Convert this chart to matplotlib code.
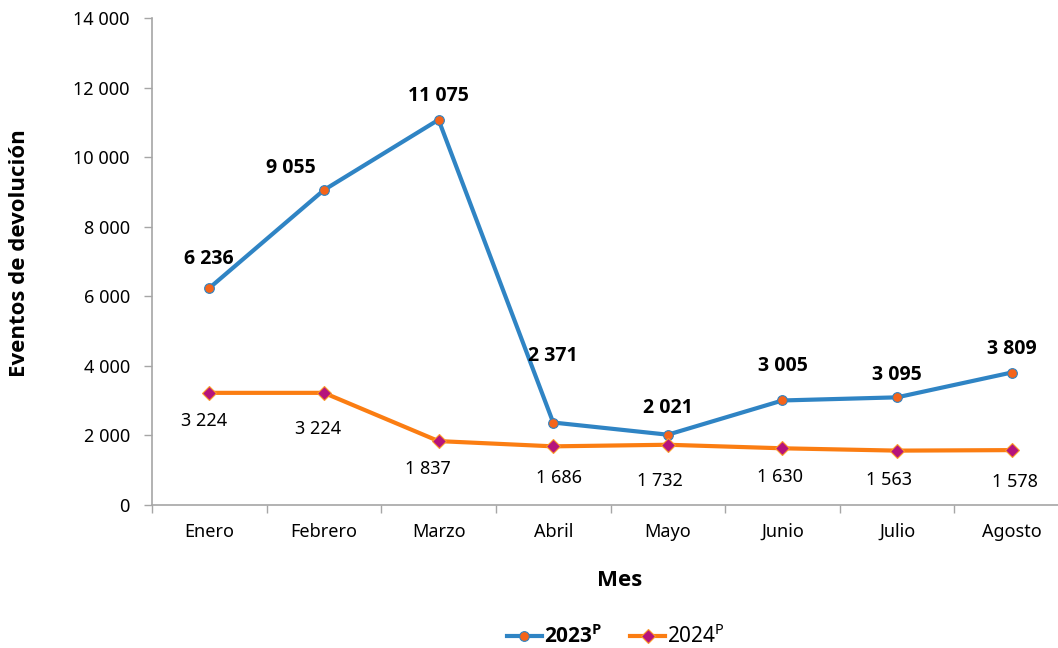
import matplotlib
matplotlib.use("Agg")
import matplotlib.pyplot as plt
from matplotlib.ticker import FuncFormatter, FixedLocator
from matplotlib.lines import Line2D

plt.rcParams['font.family'] = ['Noto Sans', 'DejaVu Sans']
plt.rcParams['mathtext.fontset'] = 'custom'
plt.rcParams['mathtext.rm'] = 'Noto Sans'
plt.rcParams['mathtext.bf'] = 'Open Sans:bold'

BOLD = ['Open Sans', 'DejaVu Sans']

months = ["Enero", "Febrero", "Marzo", "Abril", "Mayo", "Junio", "Julio", "Agosto"]
values_2023 = [6236, 9055, 11075, 2371, 2021, 3005, 3095, 3809]
values_2024 = [3224, 3224, 1837, 1686, 1732, 1630, 1563, 1578]
yticks = [0, 2000, 4000, 6000, 8000, 10000, 12000, 14000]

# label offsets in points (styles, not data)
off_2023 = [(0, 21), (-24, 16), (0, 17), (0, 48), (0, 19), (0, 25), (0, 16), (0, 17)]
off_2024 = [(-4, -20), (-4, -26), (-8, -20), (4, -23), (-6, -26), (-2, -21), (-6, -21), (2, -23)]

def fmt(v):
    return f"{int(v):,}".replace(",", " ")

blue = '#2f84c4'
orange = '#fb7d12'
gray = '#a6a6a6'
FS = 13

fig = plt.figure(figsize=(10.58, 6.48), dpi=100)
ax = fig.add_axes([152/1058, 1-505/648, (1069-152)/1058, (505-18)/648])

x = list(range(len(months)))
ax.plot(x, values_2023, color=blue, lw=3, marker='o', ms=7,
        mfc='#f5641a', mec='#2f84c4', mew=0.8, zorder=3)
ax.plot(x, values_2024, color=orange, lw=3, marker='D', ms=7,
        mfc='#b5137c', mec='#fb9a2a', mew=0.8, zorder=3)

for i, v in enumerate(values_2023):
    ax.annotate(fmt(v), (i, v), xytext=off_2023[i], textcoords='offset points',
                ha='center', va='center', fontsize=14, fontweight='bold', family=BOLD)
for i, v in enumerate(values_2024):
    ax.annotate(fmt(v), (i, v), xytext=off_2024[i], textcoords='offset points',
                ha='center', va='center', fontsize=FS)

ax.set_xlim(-0.5, len(months) - 0.5)
ax.set_ylim(0, 14000)
ax.set_yticks(yticks)
ax.yaxis.set_major_formatter(FuncFormatter(lambda v, p: fmt(v)))
ax.set_xticks(x)
ax.set_xticklabels(months)
ax.xaxis.set_minor_locator(FixedLocator([i - 0.5 for i in range(len(months) + 1)]))
ax.tick_params(axis='x', which='major', length=0, pad=13, labelsize=FS)
ax.tick_params(axis='x', which='minor', length=6, color=gray, width=1)
ax.tick_params(axis='y', length=6, color=gray, width=1, labelsize=FS, pad=10)

for s in ['top', 'right']:
    ax.spines[s].set_visible(False)
for s in ['left', 'bottom']:
    ax.spines[s].set_color(gray)
    ax.spines[s].set_linewidth(1.2)

fig.text(20/1058, 1-253/648, "Eventos de devolución", rotation=90, ha='center', va='center',
         fontsize=16, fontweight='bold', family=BOLD)
fig.text(620/1058, 1-581/648, "Mes", ha='center', va='center', fontsize=16,
         fontweight='bold', family=BOLD)

h1 = Line2D([], [], color=blue, lw=3, marker='o', ms=7, mfc='#f5641a', mec=blue, mew=0.8)
h2 = Line2D([], [], color=orange, lw=3, marker='D', ms=7, mfc='#b5137c', mec='#fb9a2a', mew=0.8)
fig.legend([h1, h2], [r"$\mathbf{2023}^{\mathbf{P}}$", r"$\mathrm{2024}^{\mathrm{P}}$"],
           loc='center', bbox_to_anchor=(616/1058, 1-636/648), ncol=2, frameon=False,
           fontsize=15, handlelength=1.7, columnspacing=1.3, handletextpad=0.1)

fig.savefig("out.png", dpi=100)
